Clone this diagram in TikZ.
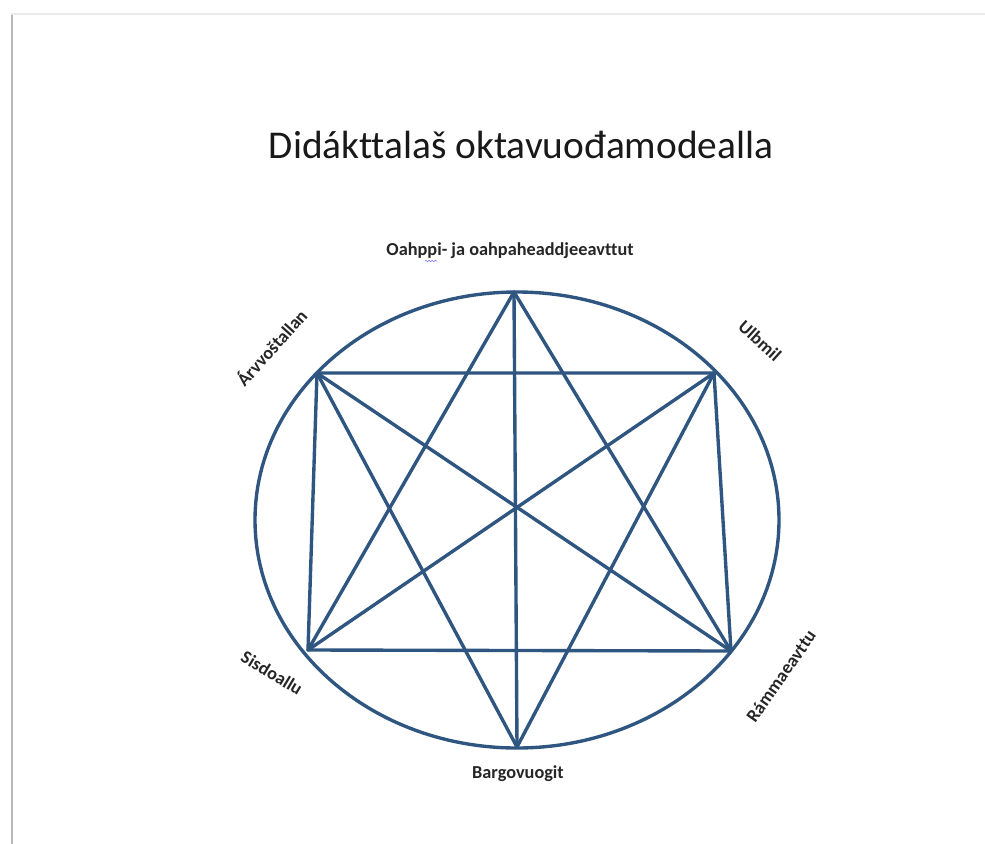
\documentclass[tikz,border=0pt]{standalone}
\usepackage{fontspec}
\setmainfont{Carlito}[Ligatures=NoCommon]
\usetikzlibrary{decorations.pathmorphing}
\definecolor{modelblue}{RGB}{46,86,128}
\tikzset{
	modelline/.style={line width=2.4pt, color=modelblue, line cap=round, line join=round},
	cornerlabel/.style={font=\fontsize{13}{15}\selectfont\bfseries, text=black!85, inner sep=1pt},
}

\begin{document}
\begin{tikzpicture}[x=0.25mm, y=-0.25mm]
			%%%%% START %%%%%
			\useasboundingbox (0, 0) rectangle (985, 844);
			\fill[white] (0, 0) rectangle (985, 844);
			
			% page edge
			\draw[line width=1.8pt, color=black!8] (12, 844) -- (12, 14) -- (985, 14);
			\draw[line width=0.9pt, color=black!28] (12, 844) -- (12, 15);
			
			% title
			\node[font=\fontsize{28}{32}\selectfont, text=black!90] (title) at (521, 145) {Didákttalaš oktavuođamodealla};
			
			% corners of the model
			\coordinate (top) at (514, 292);
			\coordinate (ulbmil) at (714, 373);
			\coordinate (ramma) at (731, 651);
			\coordinate (bottom) at (517, 747);
			\coordinate (sisdoallu) at (308, 650);
			\coordinate (arvvo) at (317, 373);
			
			\draw[modelline] (517, 520) ellipse (262 and 228);
			
			\draw[modelline] (arvvo) -- (ulbmil) -- (ramma) -- (sisdoallu) -- cycle;
			\draw[modelline] (arvvo) -- (ramma);
			\draw[modelline] (ulbmil) -- (sisdoallu);
			\draw[modelline] (top) -- (bottom);
			\draw[modelline] (sisdoallu) -- (top) -- (ramma);
			\draw[modelline] (arvvo) -- (bottom) -- (ulbmil);
			
			% labels
			\node[cornerlabel] (toplabel) at (510, 251) {Oahppi- ja oahpaheaddjeeavttut};
			\draw[color=blue!55, line width=0.4pt, decorate, decoration={snake, amplitude=0.5, segment length=2.2}] (425, 261) -- (437, 261);
			\node[cornerlabel, rotate=-42] (ulbmillabel) at (760, 341) {Ulbmil};
			\node[cornerlabel, rotate=55] (rammalabel) at (781, 676) {Rámmaeavttu};
			\node[cornerlabel] (bottomlabel) at (518, 774) {Bargovuogit};
			\node[cornerlabel, rotate=-31] (sisdoallulabel) at (272, 673) {Sisdoallu};
			\node[cornerlabel, rotate=48] (arvvolabel) at (271, 347) {Árvvoštallan};
			
			%%%%% END %%%%%
\end{tikzpicture}
\end{document}
